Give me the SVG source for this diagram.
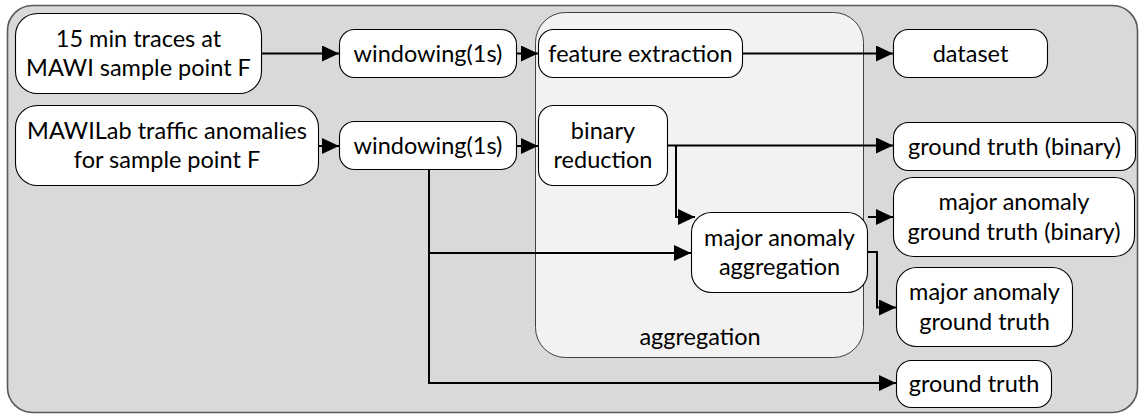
<svg xmlns="http://www.w3.org/2000/svg" width="1139" height="415" viewBox="0 0 1139 415">
<style>
.node{fill:#fff;stroke:#000;stroke-width:1.1}
.t{font-family:Lato,"Open Sans","Liberation Sans",sans-serif;font-size:23.5px;fill:#000;text-anchor:middle}
.c{fill:none;stroke:#000;stroke-width:2}
</style>
<defs>
<marker id="ah" markerUnits="userSpaceOnUse" markerWidth="18" markerHeight="17" refX="17" refY="8" orient="auto">
<path d="M0,0 L17,8 L0,16 z" fill="#000"/>
</marker>
</defs>
<rect id="frame" x="7.5" y="5.5" width="1130" height="407" rx="25" fill="#d9d9d9" stroke="#595959" stroke-width="1.6"/>
<g id="aggregation">
<rect x="535.5" y="12.5" width="328" height="345" rx="30" fill="#f2f2f2" stroke="#404040" stroke-width="1"/>
<text class="t" x="700" y="345">aggregation</text>
</g>
<g id="traces">
<rect class="node" x="15.5" y="13.5" width="246" height="80" rx="22"/>
<text class="t" x="138.5" y="47">15 min traces at</text>
<text class="t" x="138.5" y="76">MAWI sample point F</text>
</g>
<g id="mawilab">
<rect class="node" x="15.5" y="105.5" width="303" height="80" rx="22"/>
<text class="t" x="167" y="139">MAWILab traffic anomalies</text>
<text class="t" x="167" y="168">for sample point F</text>
</g>
<g id="windowing1">
<rect class="node" x="339.5" y="29.5" width="177" height="48" rx="15"/>
<text class="t" x="428" y="61.5">windowing(1s)</text>
</g>
<g id="windowing2">
<rect class="node" x="339.5" y="121.5" width="177" height="48" rx="15"/>
<text class="t" x="428" y="154">windowing(1s)</text>
</g>
<g id="feature">
<rect class="node" x="538.5" y="29.5" width="204" height="48" rx="15"/>
<text class="t" x="640.5" y="61.5">feature extraction</text>
</g>
<g id="binary">
<rect class="node" x="538.5" y="105.5" width="129" height="80" rx="15"/>
<text class="t" x="603" y="139">binary</text>
<text class="t" x="603" y="168">reduction</text>
</g>
<g id="majoragg">
<rect class="node" x="691.5" y="212.5" width="176" height="80" rx="20"/>
<text class="t" x="779.5" y="245.5">major anomaly</text>
<text class="t" x="779.5" y="275">aggregation</text>
</g>
<g id="dataset">
<rect class="node" x="893.5" y="29.5" width="154" height="48" rx="15"/>
<text class="t" x="970.5" y="61.5">dataset</text>
</g>
<g id="gtbinary">
<rect class="node" x="893.5" y="122.5" width="242" height="48" rx="15"/>
<text class="t" x="1014.5" y="154.5">ground truth (binary)</text>
</g>
<g id="majorgtbinary">
<rect class="node" x="893.5" y="177.5" width="241" height="79" rx="20"/>
<text class="t" x="1014" y="210">major anomaly</text>
<text class="t" x="1014" y="239.5">ground truth (binary)</text>
</g>
<g id="majorgt">
<rect class="node" x="896.5" y="267.5" width="176" height="79" rx="20"/>
<text class="t" x="984.5" y="300">major anomaly</text>
<text class="t" x="984.5" y="329.5">ground truth</text>
</g>
<g id="gt">
<rect class="node" x="896.5" y="360.5" width="155" height="47" rx="15"/>
<text class="t" x="974" y="392">ground truth</text>
</g>
<g id="connectors">
<path class="c" d="M262,53.5 H339" marker-end="url(#ah)"/>
<path class="c" d="M319,146 H339" marker-end="url(#ah)"/>
<path class="c" d="M517,53.5 H538" marker-end="url(#ah)"/>
<path class="c" d="M517,146 H538" marker-end="url(#ah)"/>
<path class="c" d="M743,53.5 H893" marker-end="url(#ah)"/>
<path class="c" d="M668,145.5 H893" marker-end="url(#ah)"/>
<path class="c" d="M676,145.5 V217 H695" marker-end="url(#ah)"/>
<path class="c" d="M429,170 V383 H896" marker-end="url(#ah)"/>
<path class="c" d="M429,253 H691" marker-end="url(#ah)"/>
<path class="c" d="M868,217 H893" marker-end="url(#ah)"/>
<path class="c" d="M868,252 H877 V307.5 H896" marker-end="url(#ah)"/>
</g>
</svg>
